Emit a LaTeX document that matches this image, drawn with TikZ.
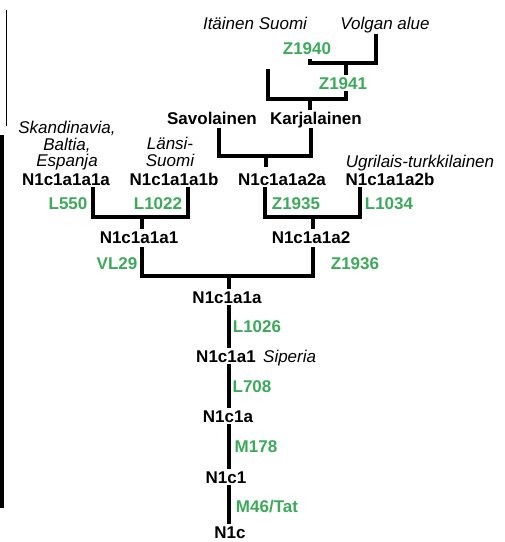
\documentclass[tikz,border=0pt]{standalone}
\usepackage{fontspec}
\setmainfont{Liberation Sans}
\usetikzlibrary{positioning}
\definecolor{snpgreen}{RGB}{60,170,90}
\newcommand{\lblfont}{\fontsize{17}{16.5}\selectfont}
\tikzset{
	lbl/.style={inner sep=2pt, text height=12pt, text depth=0pt},
	haplo/.style={lbl, font=\lblfont\bfseries},
	snp/.style={lbl, font=\lblfont\bfseries, text=snpgreen},
	region/.style={font=\lblfont\itshape, inner sep=0pt},
	branch/.style={line width=4pt, line join=miter}
}

\begin{document}
\begin{tikzpicture}[x=1pt,y=-1pt]
					\useasboundingbox (0,0) rectangle (505,542);
					\draw[line width=1.5pt] (6.5,10) -- (6.5,126);
					\draw[line width=3.5pt] (1.75,135) -- (1.75,508);

					\node[region, lbl] (itasuomi) at (255,23) {Itäinen Suomi};
					\node[region, lbl] (volga) at (385,23) {Volgan alue};
					\node[snp] (z1940) at (307,48) {Z1940};
					\node[snp] (z1941) at (343,83) {Z1941};
					\node[haplo] (savo) at (212,118) {Savolainen};
					\node[haplo] (karja) at (316,118) {Karjalainen};
					\node[region, align=center] (skand) at (67,146) {Skandinavia,\\Baltia,\\Espanja};
					\node[region, align=center] (lansi) at (170,152) {Länsi-\\Suomi};
					\node[region, lbl] (ugri) at (420,161) {Ugrilais-turkkilainen};
					\node[haplo] (a1a1a) at (66,179) {N1c1a1a1a};
					\node[haplo] (a1a1b) at (174,179) {N1c1a1a1b};
					\node[haplo] (a1a2a) at (282,179) {N1c1a1a2a};
					\node[haplo] (a1a2b) at (390,179) {N1c1a1a2b};
					\node[snp] (l550) at (68,203) {L550};
					\node[snp] (l1022) at (158,203) {L1022};
					\node[snp] (z1935) at (296,203) {Z1935};
					\node[snp] (l1034) at (389,203) {L1034};
					\node[haplo] (a1a1) at (139,237) {N1c1a1a1};
					\node[haplo] (a1a2) at (311,237) {N1c1a1a2};
					\node[snp] (vl29) at (117,263) {VL29};
					\node[snp] (z1936) at (355,263) {Z1936};
					\node[haplo] (a1a) at (227,297) {N1c1a1a};
					\node[snp] (l1026) at (257,326) {L1026};
					\node[haplo] (a1) at (226,356) {N1c1a1};
					\node[region, lbl, right=3pt of a1] (siperia) {Siperia};
					\node[snp] (l708) at (252,386) {L708};
					\node[haplo] (c1a) at (228,416) {N1c1a};
					\node[snp] (m178) at (256,446) {M178};
					\node[haplo] (c1) at (226,477) {N1c1};
					\node[snp] (m46) at (267,506) {M46/Tat};
					\node[haplo] (c) at (230,532) {N1c};

					\coordinate (jz1940) at (346,63);
					\coordinate (jz1941) at (346,99);
					\coordinate (jkarja) at (310,99);
					\coordinate (itaend) at (268,69);
					\coordinate (ja2a) at (266,156);
					\coordinate (ja1) at (142,217);
					\coordinate (ja2) at (313,217);
					\coordinate (ja) at (229,276);

					\draw[branch] ([shift={(-9,3)}]volga.south) |- (jz1940) -| ([shift={(3,3)}]z1940.south);
					\draw[branch] (jz1940) -- (jz1940 |- z1941.north);
					\draw[branch] (jz1941 |- z1941.south) -- (jz1941) -| (itaend);
					\draw[branch] (jkarja) -- (jkarja |- karja.north);
					\draw[branch] ([shift={(7,2)}]savo.south) |- (ja2a) -| ([shift={(-5,2)}]karja.south);
					\draw[branch, shorten >=4pt] (ja2a) -- (ja2a |- a1a2a.north);
					\draw[branch] ([xshift=27]a1a1a.south) |- (ja1) -| ([xshift=14]a1a1b.south);
					\draw[branch] (ja1) -- (ja1 |- a1a1.north);
					\draw[branch] ([xshift=-17]a1a2a.south) |- (ja2) -| ([xshift=-30]a1a2b.south);
					\draw[branch] (ja2) -- (ja2 |- a1a2.north);
					\draw[branch] ([shift={(3,2)}]a1a1.south) |- (ja) -| ([shift={(2,2)}]a1a2.south);
					\draw[branch] (ja) -- (ja |- a1a.north);
					\foreach \up/\down in {a1a/a1, a1/c1a, c1a/c1, c1/c}
						\draw[branch] (\up.south -| ja) -- (\down.north -| ja);
				\end{tikzpicture}
\end{document}
